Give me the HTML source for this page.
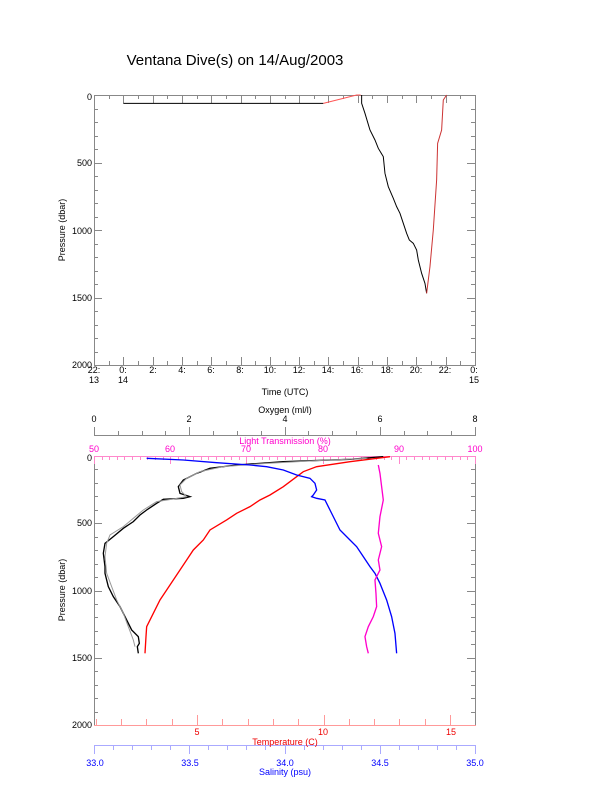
<!DOCTYPE html>
<html><head><meta charset="utf-8"><style>
body{margin:0;background:#fff;}
svg{display:block;font-family:"Liberation Sans",sans-serif;}
</style></head><body>
<svg width="612" height="785" viewBox="0 0 612 785" xmlns="http://www.w3.org/2000/svg">
<rect width="612" height="785" fill="#fff"/>
<text x="235" y="65" font-size="15" text-anchor="middle">Ventana Dive(s) on 14/Aug/2003</text>

<!-- TOP PLOT -->
<g stroke="#888" fill="none" stroke-width="1">
<rect x="94.5" y="95.5" width="381" height="270"/>
<path id="tt" d=""/>
</g>
<g id="topticks" stroke="#888" stroke-width="1"></g>
<g font-size="9" text-anchor="end" fill="#000">
<text x="92" y="100">0</text>
<text x="92" y="166">500</text>
<text x="92" y="234">1000</text>
<text x="92" y="301">1500</text>
<text x="92" y="368">2000</text>
</g>
<text transform="translate(65,230) rotate(-90)" font-size="9" text-anchor="middle">Pressure (dbar)</text>
<g font-size="9" text-anchor="middle">
<text x="94" y="373">22:</text><text x="94" y="383">13</text>
<text x="123" y="373">0:</text><text x="123" y="383">14</text>
<text x="153" y="373">2:</text><text x="182" y="373">4:</text><text x="211" y="373">6:</text>
<text x="240" y="373">8:</text><text x="270" y="373">10:</text><text x="299" y="373">12:</text>
<text x="328" y="373">14:</text><text x="357" y="373">16:</text><text x="387" y="373">18:</text>
<text x="416" y="373">20:</text><text x="445" y="373">22:</text>
<text x="474" y="373">0:</text><text x="474" y="383">15</text>
</g>
<text x="285" y="395" font-size="9" text-anchor="middle">Time (UTC)</text>

<g transform="translate(50,80) scale(0.3333)" fill="none" stroke-width="3">
<polyline stroke="#000" points="220,70 820,70"/>
<polyline stroke="#f55" points="820,70 920,45 932,45"/>
<polyline stroke="#000" points="935,45 935,70 945,100 960,150 975,180 985,205 1000,230 1005,280 1015,320 1030,355 1040,380 1050,400 1060,430 1070,460 1078,480 1090,490 1100,510 1105,540 1115,580 1125,610 1130,640"/>
<polyline stroke="#c33" points="1130,640 1140,560 1150,450 1160,300 1163,190 1175,150 1180,60 1190,45"/>
</g>

<!-- BOTTOM PLOT -->
<rect x="94.5" y="456.5" width="381" height="269" fill="none" stroke="#888"/>
<line x1="94" y1="456.5" x2="476" y2="456.5" stroke="#f8c" />
<line x1="94" y1="725.5" x2="476" y2="725.5" stroke="#f99" />
<line x1="94" y1="435.5" x2="476" y2="435.5" stroke="#888" />
<line x1="94" y1="745.5" x2="476" y2="745.5" stroke="#aaf" />
<g id="botticks"></g>

<g font-size="9" text-anchor="end">
<text x="92" y="461">0</text>
<text x="92" y="526">500</text>
<text x="92" y="594">1000</text>
<text x="92" y="661">1500</text>
<text x="92" y="728">2000</text>
</g>
<text transform="translate(65,590) rotate(-90)" font-size="9" text-anchor="middle">Pressure (dbar)</text>
<g font-size="9" text-anchor="middle">
<text x="94" y="422">0</text><text x="189" y="422">2</text><text x="285" y="422">4</text><text x="380" y="422">6</text><text x="475" y="422">8</text>
<text x="285" y="413">Oxygen (ml/l)</text>
</g>
<g font-size="9" text-anchor="middle" fill="#f0c">
<text x="94" y="452">50</text><text x="170" y="452">60</text><text x="246" y="452">70</text><text x="323" y="452">80</text><text x="399" y="452">90</text><text x="475" y="452">100</text>
<text x="285" y="444">Light Transmission (%)</text>
</g>
<g font-size="9" text-anchor="middle" fill="#e00">
<text x="197" y="735">5</text><text x="323" y="735">10</text><text x="451" y="735">15</text>
<text x="285" y="745">Temperature (C)</text>
</g>
<g font-size="9" text-anchor="middle" fill="#00f">
<text x="95" y="766">33.0</text><text x="190" y="766">33.5</text><text x="285" y="766">34.0</text><text x="380" y="766">34.5</text><text x="475" y="766">35.0</text>
<text x="285" y="775">Salinity (psu)</text>
</g>

<g transform="translate(50,400) scale(0.3333)" fill="none" stroke-width="4">
<polyline stroke="#000" points="1000,170 900,178 700,185 560,195 480,205 440,220 400,240 385,260 390,280 420,290 400,295 340,298 320,310 290,330 270,345 250,365 220,385 190,410 165,430 160,460 165,500 165,520 175,560 190,590 210,620 230,660 245,690 265,710 268,730 262,740 265,760"/>
<polyline stroke="#999" stroke-width="3" points="950,175 800,182 650,190 520,200 450,215 410,235 390,255 395,275 410,290 370,297 320,305 280,330 250,355 220,380 180,405 170,430 165,470 170,520 185,560 200,600 220,640 235,680 250,720 255,740"/>
<polyline stroke="#f00" points="1020,170 900,185 800,200 760,215 740,230 700,260 660,285 630,300 600,320 560,340 530,360 480,390 460,420 430,450 410,480 390,510 370,540 350,570 330,600 310,640 290,680 288,710 285,760"/>
<polyline stroke="#00f" points="290,175 400,180 500,188 600,195 650,200 700,210 740,225 780,235 795,250 800,270 790,285 785,290 800,295 825,300 840,330 855,360 870,390 900,420 920,440 940,470 960,500 975,520 990,550 1010,600 1025,650 1035,700 1040,760"/>
<polyline stroke="#f0c" points="985,195 990,220 995,260 1000,300 990,350 985,400 995,440 985,480 990,510 975,540 978,580 980,620 970,650 955,680 945,710 950,740 955,760"/>
</g>
<script>
(function(){
var ns="http://www.w3.org/2000/svg";
function ln(g,x1,y1,x2,y2,c){var l=document.createElementNS(ns,"line");l.setAttribute("x1",x1);l.setAttribute("y1",y1);l.setAttribute("x2",x2);l.setAttribute("y2",y2);l.setAttribute("stroke",c);l.setAttribute("stroke-width","1");g.appendChild(l);}
var t=document.getElementById("topticks");
for(var p=100;p<2000;p+=100){var y=Math.round(95+p*270/2000)+0.5;var L=(p%500==0)?8:4;ln(t,94,y,94+L,y,"#888");ln(t,475,y,475-L,y,"#888");}
for(var h=1;h<26;h++){var x=Math.round(94+h*381/26)+0.5;var L=(h%2==0)?8:4;ln(t,x,365,x,365-L,"#888");ln(t,x,95,x,95+L,"#888");}
var b=document.getElementById("botticks");
for(var p=100;p<2000;p+=100){var y=Math.round(456+p*269/2000)+0.5;var L=(p%500==0)?8:4;ln(b,94,y,94+L,y,"#888");ln(b,475,y,475-L,y,"#888");}
for(var o=0;o<=16;o++){var x=Math.round(94+o*381/16)+0.5;ln(b,x,435,x,(o%4==0)?427:431,"#888");}
for(var l=0;l<=50;l++){var x=Math.round(94+l*381/50)+0.5;ln(b,x,456,x,(l%10==0)?464:460,"#f8c");}
for(var T=1;T<=15;T++){var x=Math.round(197+(T-5)*25.3)+0.5;if(x<94||x>475)continue;ln(b,x,725,x,(T%5==0)?715:719,"#f99");}
for(var s=0;s<=20;s++){var x=Math.round(94+s*381/20)+0.5;ln(b,x,745,x,(s%5==0)?754:750,"#aaf");}
})();
</script>
</svg>
</body></html>
